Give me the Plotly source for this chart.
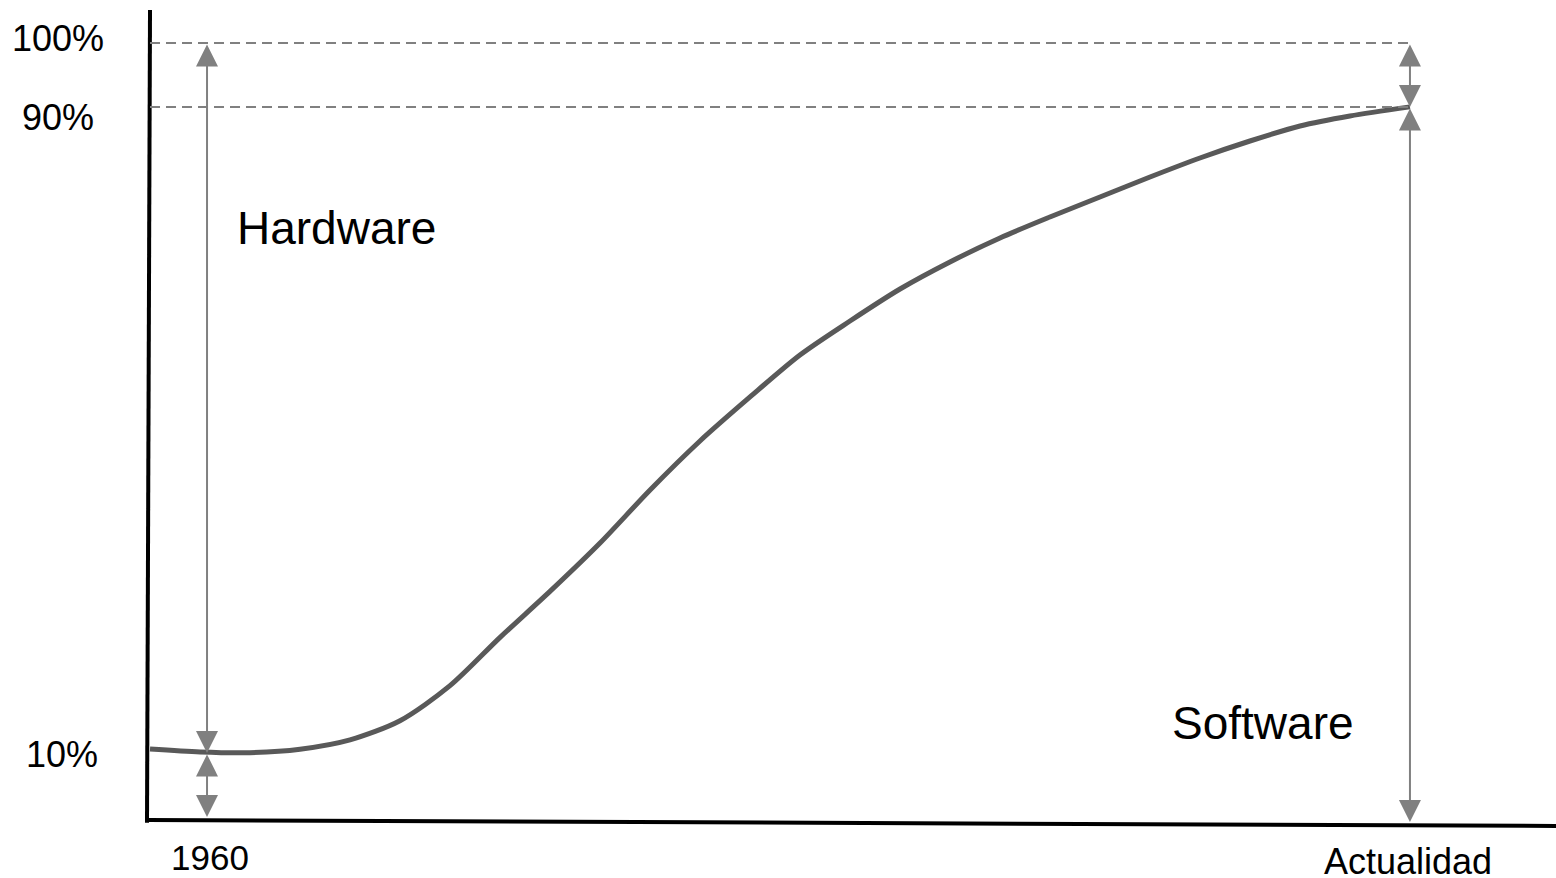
import plotly.graph_objects as go

# ---- data (schematic units: time index 0 = 1960, 100 = Actualidad; y = cost share scale) ----
time_idx = [-4.74, -0.58, 3.57, 7.73, 11.89, 16.04, 20.20, 24.36, 28.51, 32.67, 36.83,
            40.98, 45.14, 49.29, 53.45, 57.61, 61.76, 65.92, 70.07, 74.23, 78.39,
            82.54, 86.70, 90.86, 95.01, 100.0]
software_share = [9.37, 8.99, 8.90, 9.35, 10.55, 13.0, 17.5, 23.7, 29.6, 35.81, 42.62,
                  48.91, 54.56, 59.95, 64.31, 68.42, 71.89, 74.97, 77.66, 80.23, 82.80,
                  85.24, 87.42, 89.35, 90.63, 91.8]

x_labels = ["1960", "Actualidad"]
x_label_pos = [0, 100]
y_labels = ["100%", "90%", "10%"]
y_levels = [100.0, 91.8, 8.86]
region_labels = ["Hardware", "Software"]

X_MIN, X_MAX = -17.21, 112.14
Y_MIN, Y_MAX = -7.19, 105.52
AX_X = -4.74

GRAY = "#808080"
CURVE = "#595959"
FONT = "Liberation Sans, Arial, sans-serif"

fig = go.Figure()
fig.add_trace(go.Scatter(x=time_idx, y=software_share, mode="lines",
                         line=dict(color=CURVE, width=5, shape="spline", smoothing=0.8),
                         hoverinfo="skip", showlegend=False))

shapes = []
# axes
shapes.append(dict(type="line", xref="x", yref="y", x0=AX_X, y0=104.24, x1=-4.99, y1=-0.1,
                   line=dict(color="black", width=4)))
shapes.append(dict(type="line", xref="x", yref="y", x0=-4.9, y0=0.26, x1=X_MAX, y1=-0.51,
                   line=dict(color="black", width=4)))
# dashed reference lines (100% and 90%)
for lvl in y_levels[:2]:
    shapes.append(dict(type="line", xref="x", yref="y", x0=AX_X, y0=lvl, x1=x_label_pos[1], y1=lvl,
                       line=dict(color=GRAY, width=2, dash="10px,6px")))

annotations = []
def dbl_arrow(x, y_top, y_bot):
    annotations.append(dict(x=x, y=y_bot, ax=x, ay=y_top, xref="x", yref="y", axref="x", ayref="y",
                            text="", showarrow=True, arrowside="end+start",
                            arrowhead=2, startarrowhead=2, arrowsize=2.2, startarrowsize=2.2,
                            arrowwidth=2, arrowcolor=GRAY, standoff=0, startstandoff=0))

left_curve = y_levels[2]
dbl_arrow(x_label_pos[0], y_levels[0], left_curve)
dbl_arrow(x_label_pos[0], left_curve, 0.64)
dbl_arrow(x_label_pos[1], y_levels[0], y_levels[1])
dbl_arrow(x_label_pos[1], y_levels[1], 0.0)

# y labels
y_label_x = [-12.35, -12.43, -12.05]
y_label_y = [100.6, 90.4, 8.7]
for t, xx, yy in zip(y_labels, y_label_x, y_label_y):
    annotations.append(dict(x=xx, y=yy, xref="x", yref="y", text=t, showarrow=False,
                            xanchor="center", yanchor="middle",
                            font=dict(family=FONT, size=36, color="black")))
# x labels
x_lab_x = [0.21, 99.83]
x_lab_y = [-4.55, -5.1]
x_lab_size = [35, 36]
for t, xx, yy, s in zip(x_labels, x_lab_x, x_lab_y, x_lab_size):
    annotations.append(dict(x=xx, y=yy, xref="x", yref="y", text=t, showarrow=False,
                            xanchor="center", yanchor="middle",
                            font=dict(family=FONT, size=s, color="black")))
# region labels
reg_x = [10.76, 87.82]
reg_y = [76.2, 12.75]
for t, xx, yy in zip(region_labels, reg_x, reg_y):
    annotations.append(dict(x=xx, y=yy, xref="x", yref="y", text=t, showarrow=False,
                            xanchor="center", yanchor="middle",
                            font=dict(family=FONT, size=46, color="black")))

fig.update_layout(
    width=1556, height=878,
    margin=dict(l=0, r=0, t=0, b=0),
    paper_bgcolor="white", plot_bgcolor="white",
    xaxis=dict(range=[X_MIN, X_MAX], visible=False, fixedrange=True),
    yaxis=dict(range=[Y_MIN, Y_MAX], visible=False, fixedrange=True),
    shapes=shapes, annotations=annotations, showlegend=False,
)

fig.write_html("out.html", config={"displayModeBar": False},
               post_script="document.body.style.margin='0';document.body.style.overflow='hidden';")
